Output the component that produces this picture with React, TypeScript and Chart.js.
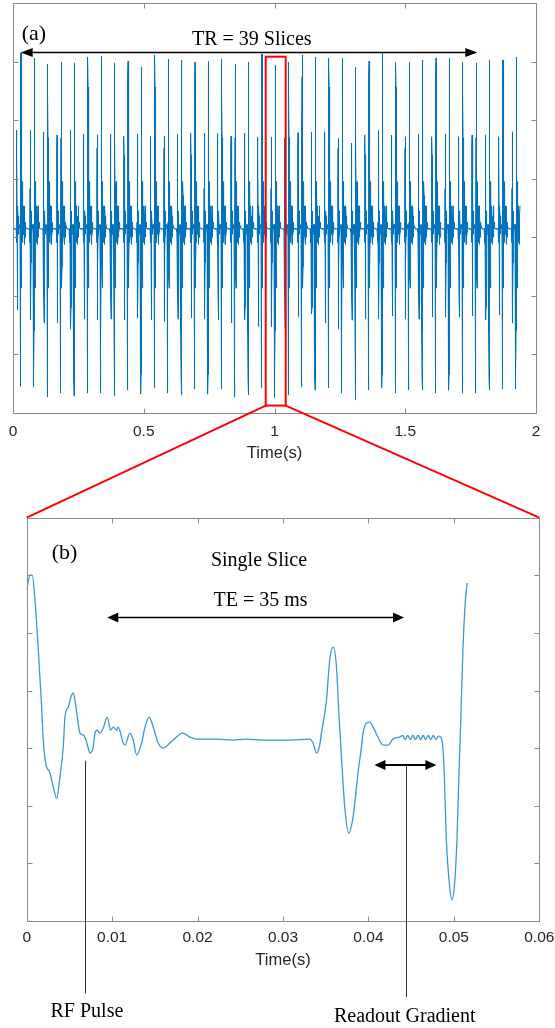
import React, { useEffect, useRef } from 'react';
import { Chart, registerables } from 'chart.js';

Chart.register(...registerables);

// ---------------- DATA ----------------
// Panel (b): one slice of the signal. Time in seconds, amplitude in axis units.
const sliceTime = [
  0, 0.00039, 0.00065, 0.00097, 0.00136, 0.00175, 0.00194, 0.00222, 0.00273, 0.00311,
  0.00351, 0.00389, 0.00428, 0.00448, 0.00487, 0.00518, 0.00545, 0.00577, 0.00623, 0.00662,
  0.00694, 0.0072, 0.0074, 0.00779, 0.00799, 0.00826, 0.00857, 0.00896, 0.00943, 0.00982,
  0.01013, 0.01053, 0.01071, 0.0113, 0.0115, 0.01208, 0.01247, 0.01287, 0.01345, 0.01384,
  0.01434, 0.01481, 0.01539, 0.01598, 0.01676, 0.01715, 0.01825, 0.0191, 0.01988, 0.02222,
  0.02416, 0.02573, 0.02767, 0.0308, 0.03313, 0.03352, 0.03392, 0.0343, 0.0345, 0.03509,
  0.03547, 0.03586, 0.03626, 0.03656, 0.03684, 0.03723, 0.0377, 0.0382, 0.03878, 0.03918,
  0.03937, 0.03977, 0.04015, 0.04054, 0.04112, 0.04171, 0.04229, 0.04288, 0.04366, 0.044,
  0.0443, 0.0446, 0.0449, 0.0452, 0.0455, 0.0458, 0.0461, 0.0464, 0.0467, 0.047,
  0.0473, 0.0476, 0.0479, 0.0482, 0.04854, 0.04873, 0.04887, 0.04912, 0.04951, 0.04978,
  0.05009, 0.05036, 0.0506, 0.05076, 0.05106, 0.05135, 0.05158,
];
const sliceSignal = [
  1.745, 2.005, 2.005, 1.571, 0.703, -0.286, -0.859, -1.259, -1.432, -1.675,
  -1.866, -1.502, -0.981, -0.46, -0.286, -0.113, -0.043, -0.286, -0.738, -0.773,
  -0.859, -0.998, -1.085, -0.981, -0.738, -0.686, -0.738, -0.651, -0.46, -0.686,
  -0.634, -0.686, -0.634, -0.911, -0.946, -0.738, -0.859, -1.12, -0.911, -0.634,
  -0.46, -0.634, -0.911, -0.998, -0.911, -0.859, -0.738, -0.807, -0.842, -0.842,
  -0.859, -0.842, -0.859, -0.859, -0.842, -0.911, -1.085, -0.946, -0.738, -0.165,
  0.53, 0.755, 0.408, -0.46, -1.155, -2.023, -2.474, -2.196, -1.432, -0.981,
  -0.738, -0.564, -0.547, -0.634, -0.807, -0.946, -0.946, -0.842, -0.807, -0.78,
  -0.85, -0.78, -0.85, -0.78, -0.85, -0.78, -0.85, -0.78, -0.85, -0.78,
  -0.85, -0.78, -0.85, -0.79, -0.825, -1.033, -1.432, -2.595, -3.41, -3.636,
  -3.341, -2.595, -1.432, -0.738, 0.703, 1.571, 1.866,
];

// Panel (a): repetition of the slice (TR = 39 slices) and per-slice extremes
const slicePeriod = 0.0512;
const firstSliceStart = -0.0211;
const sliceCount = 39;
const traceEnd = 1.939;
const tallUpPeaks = [
  2.152, 2.067, 1.964, 1.998, 1.981, 2.084, 2.101, 1.981, 2.015, 1.913,
  2.118, 2.05, 2.032, 1.998, 2.015, 2.05, 1.964, 1.998, 2.135, 1.947,
  1.998, 2.118, 2.084, 2.067, 2.067, 1.913, 2.015, 2.152, 1.998, 1.998,
  2.032, 2.067, 2.067, 1.998, 1.981, 2.032, 2.032, 2.084,
];
const tallDownPeaks = [
  -3.552, -3.557, -3.728, -3.66, -3.711, -3.66, -3.66, -3.711, -3.609, -3.677,
  -3.574, -3.66, -3.694, -3.591, -3.677, -3.591, -3.728, -3.694, -3.574, -3.737,
  -3.694, -3.557, -3.609, -3.574, -3.66, -3.779, -3.609, -3.574, -3.66, -3.609,
  -3.609, -3.66, -3.609, -3.66, -3.66, -3.609, -3.591, -3.591,
];
const echoUpPeaks = [
  0.836, 0.836, 0.802, 0.75, 0.836, 0.768, 0.75, 0.768, 0.733, 0.768,
  0.733, 0.733, 0.768, 0.785, 0.785, 0.785, 0.733, 0.785, 0.716, 0.716,
  0.704, 0.79, 0.802, 0.807, 0.699, 0.614, 0.75, 0.836, 0.75, 0.721,
  0.768, 0.721, 0.768, 0.721, 0.75, 0.75, 0.721, 0.807,
];
const echoDownPeaks = [
  -2.241, -2.412, -2.458, -2.463, -2.566, -2.395, -2.412, -2.395, -2.412, -2.378,
  -2.412, -2.441, -2.395, -2.378, -2.395, -2.412, -2.463, -2.412, -2.526, -2.526,
  -2.549, -2.356, -2.309, -2.463, -2.566, -2.412, -2.395, -2.395, -2.344, -2.395,
  -2.395, -2.361, -2.361, -2.356, -2.344, -2.412, -2.327, -2.463,
];

// Axis ticks
const xTicksA = [0, 0.5, 1, 1.5, 2];
const xLabelsA = ['0', '0.5', '1', '1.5', '2'];
const xTicksB = [0, 0.01, 0.02, 0.03, 0.04, 0.05, 0.06];
const xLabelsB = ['0', '0.01', '0.02', '0.03', '0.04', '0.05', '0.06'];
const yTicks = [-4, -3, -2, -1, 0, 1, 2, 3];

// ---------------- LAYOUT / STYLE ----------------
const W = 555;
const H_A = 470;
const B_TOP = 400;
const H_B = 628;
const TICK = 5;
const FRAME = '#8a8a8a';
const LABEL = '#262626';
const SANS = '"Liberation Sans", Arial, Helvetica, sans-serif';
const SERIF = '"Liberation Serif", "Times New Roman", serif';

const annotA = {
  panel: { text: '(a)', x: 0.033, y: 2.38, size: 22 },
  title: { text: 'TR = 39 Slices', x: 0.913, y: 2.289, size: 20 },
  arrow: { x0: 0.0294, x1: 1.7755, y: 2.161 },
  box: { x0: 0.9664, x1: 1.0428, y0: -3.873, y1: 2.089 },
};
const annotB = {
  panel: { text: '(b)', x: 0.00292, y: 2.276, size: 22 },
  title: { text: 'Single Slice', x: 0.02719, y: 2.158, size: 20 },
  te: { text: 'TE = 35 ms', x: 0.02738, y: 1.464, size: 20 },
  teArrow: { x0: 0.00943, x1: 0.04416, y: 1.267 },
  roArrow: { x0: 0.0407, x1: 0.04795, y: -1.293 },
  rfLine: { x: 0.00682, y0: -1.219, y1: -5.257 },
  rfText: { text: 'RF Pulse', x: 0.00705, y: -5.66, size: 20 },
  roLine: { x: 0.04436, y0: -1.31, y1: -5.321 },
  roText: { text: 'Readout Gradient', x: 0.04425, y: -5.745, size: 20 },
};

// ---------------- helpers ----------------
function argExtreme(t0: number, t1: number, wantMax: boolean) {
  let best = -1;
  for (let i = 0; i < sliceTime.length; i++) {
    if (sliceTime[i] < t0 || sliceTime[i] > t1) continue;
    if (best < 0 || (wantMax ? sliceSignal[i] > sliceSignal[best] : sliceSignal[i] < sliceSignal[best])) best = i;
  }
  return best;
}

function buildTraceA() {
  const idxEchoUp = argExtreme(0.035, 0.037, true);
  const idxEchoDown = argExtreme(0.037, 0.039, false);
  const idxTallDown = argExtreme(0.049, 0.051, false);
  const pts: { x: number; y: number }[] = [];
  for (let k = 0; k < sliceCount; k++) {
    const start = firstSliceStart + k * slicePeriod;
    for (let i = 0; i < sliceTime.length; i++) {
      if (sliceTime[i] >= slicePeriod) break;
      const t = start + sliceTime[i];
      if (t < 0 || t > traceEnd) continue;
      let v = sliceSignal[i];
      if (k >= 1 && (i === 1 || i === 2)) v = tallUpPeaks[k - 1];
      if (k < tallDownPeaks.length) {
        if (i === idxEchoUp) v = echoUpPeaks[k];
        if (i === idxEchoDown) v = echoDownPeaks[k];
        if (i === idxTallDown) v = tallDownPeaks[k];
      }
      pts.push({ x: t, y: v });
    }
  }
  return pts;
}

function drawFrame(chart: any, xTicks: number[]) {
  const { ctx, chartArea: ca, scales } = chart;
  const l = Math.round(ca.left) + 0.5;
  const r = Math.round(ca.right) + 0.5;
  const t = Math.round(ca.top) + 0.5;
  const b = Math.round(ca.bottom) + 0.5;
  ctx.save();
  ctx.strokeStyle = FRAME;
  ctx.lineWidth = 1;
  ctx.beginPath();
  ctx.rect(l, t, r - l, b - t);
  for (const v of xTicks) {
    const x = Math.round(scales.x.getPixelForValue(v)) + 0.5;
    ctx.moveTo(x, b);
    ctx.lineTo(x, b - TICK);
    ctx.moveTo(x, t);
    ctx.lineTo(x, t + TICK);
  }
  for (const v of yTicks) {
    const y = Math.round(scales.y.getPixelForValue(v)) + 0.5;
    ctx.moveTo(l, y);
    ctx.lineTo(l + TICK, y);
    ctx.moveTo(r, y);
    ctx.lineTo(r - TICK, y);
  }
  ctx.stroke();
  ctx.restore();
}

function drawText(ctx: CanvasRenderingContext2D, text: string, x: number, y: number, size: number, align: CanvasTextAlign) {
  ctx.save();
  ctx.fillStyle = '#000';
  ctx.font = `${size}px ${SERIF}`;
  ctx.textAlign = align;
  ctx.textBaseline = 'alphabetic';
  ctx.fillText(text, x, y);
  ctx.restore();
}

function drawDoubleArrow(ctx: CanvasRenderingContext2D, x0: number, x1: number, y: number, lw: number, len: number, half: number) {
  ctx.save();
  ctx.strokeStyle = '#000';
  ctx.fillStyle = '#000';
  ctx.lineWidth = lw;
  ctx.beginPath();
  ctx.moveTo(x0 + len - 1, y);
  ctx.lineTo(x1 - len + 1, y);
  ctx.stroke();
  ctx.beginPath();
  ctx.moveTo(x0, y);
  ctx.lineTo(x0 + len, y - half);
  ctx.lineTo(x0 + len, y + half);
  ctx.closePath();
  ctx.fill();
  ctx.beginPath();
  ctx.moveTo(x1, y);
  ctx.lineTo(x1 - len, y - half);
  ctx.lineTo(x1 - len, y + half);
  ctx.closePath();
  ctx.fill();
  ctx.restore();
}

function xAxis(min: number, max: number, ticks: number[], labels: string[], height: number, tickPad: number, titlePad: number) {
  return {
    type: 'linear' as const,
    min,
    max,
    grid: { display: false, drawTicks: false },
    border: { display: false },
    afterBuildTicks: (s: any) => {
      s.ticks = ticks.map((value) => ({ value }));
    },
    afterFit: (s: any) => {
      s.height = height;
      s.paddingLeft = 0;
      s.paddingRight = 0;
    },
    ticks: {
      autoSkip: false,
      maxRotation: 0,
      padding: tickPad,
      color: LABEL,
      font: { family: SANS, size: 15.5 },
      callback: (_v: any, i: number) => labels[i] ?? '',
    },
    title: {
      display: true,
      text: 'Time(s)',
      color: LABEL,
      font: { family: SANS, size: 16.5 },
      padding: { top: 0, bottom: titlePad },
    },
  };
}

export default function App() {
  const refA = useRef<HTMLCanvasElement>(null);
  const refB = useRef<HTMLCanvasElement>(null);

  useEffect(() => {
    const traceA = buildTraceA();
    const traceB = sliceTime.map((t, i) => ({ x: t, y: sliceSignal[i] }));

    const pluginA = {
      id: 'panelA',
      afterDraw(chart: any) {
        const { ctx, scales } = chart;
        const sx = scales.x;
        const sy = scales.y;
        drawFrame(chart, xTicksA);
        const bx = annotA.box;
        ctx.save();
        ctx.strokeStyle = '#ff0000';
        ctx.lineWidth = 2;
        const x0 = sx.getPixelForValue(bx.x0);
        const x1 = sx.getPixelForValue(bx.x1);
        const y0 = sy.getPixelForValue(bx.y0);
        const y1 = sy.getPixelForValue(bx.y1);
        ctx.strokeRect(x0, y1, x1 - x0, y0 - y1);
        ctx.restore();
        const ar = annotA.arrow;
        drawDoubleArrow(ctx, sx.getPixelForValue(ar.x0), sx.getPixelForValue(ar.x1), sy.getPixelForValue(ar.y), 1.5, 12, 4.5);
        const p = annotA.panel;
        drawText(ctx, p.text, sx.getPixelForValue(p.x), sy.getPixelForValue(p.y), p.size, 'left');
        const tt = annotA.title;
        drawText(ctx, tt.text, sx.getPixelForValue(tt.x), sy.getPixelForValue(tt.y), tt.size, 'center');
      },
    };

    const chartA = new Chart(refA.current as HTMLCanvasElement, {
      type: 'line',
      data: {
        datasets: [
          {
            data: traceA,
            borderColor: '#0072BD',
            borderWidth: 1,
            pointRadius: 0,
            tension: 0,
            fill: false,
          },
        ],
      },
      options: {
        animation: false,
        responsive: false,
        devicePixelRatio: 1,
        parsing: false,
        normalized: true,
        events: [],
        layout: { padding: { left: 13, right: 19, top: 3.4, bottom: 0 } },
        plugins: { legend: { display: false }, tooltip: { enabled: false } },
        scales: {
          x: xAxis(0, 2, xTicksA, xLabelsA, 57, 9.3, 6.4) as any,
          y: { type: 'linear', min: -4, max: 3, display: false },
        },
      },
      plugins: [pluginA],
    });

    const pluginB = {
      id: 'panelB',
      afterDraw(chart: any) {
        const { ctx, scales, chartArea: ca } = chart;
        const sx = scales.x;
        const sy = scales.y;
        // red zoom connectors from the box in panel (a)
        const ax = chartA.scales.x;
        const ay = chartA.scales.y;
        const bx = annotA.box;
        const yb = ay.getPixelForValue(bx.y0) - B_TOP;
        ctx.save();
        ctx.strokeStyle = '#ff0000';
        ctx.lineWidth = 2;
        ctx.beginPath();
        ctx.moveTo(ax.getPixelForValue(bx.x0), yb);
        ctx.lineTo(ca.left, ca.top);
        ctx.moveTo(ax.getPixelForValue(bx.x1), yb);
        ctx.lineTo(ca.right, ca.top);
        ctx.stroke();
        ctx.restore();

        drawFrame(chart, xTicksB);

        const p = annotB.panel;
        drawText(ctx, p.text, sx.getPixelForValue(p.x), sy.getPixelForValue(p.y), p.size, 'left');
        for (const tt of [annotB.title, annotB.te, annotB.rfText, annotB.roText]) {
          drawText(ctx, tt.text, sx.getPixelForValue(tt.x), sy.getPixelForValue(tt.y), tt.size, 'center');
        }
        const te = annotB.teArrow;
        drawDoubleArrow(ctx, sx.getPixelForValue(te.x0), sx.getPixelForValue(te.x1), sy.getPixelForValue(te.y), 1.5, 11, 5);
        const ro = annotB.roArrow;
        drawDoubleArrow(ctx, sx.getPixelForValue(ro.x0), sx.getPixelForValue(ro.x1), sy.getPixelForValue(ro.y), 2, 11, 5);

        ctx.save();
        ctx.strokeStyle = '#333';
        ctx.lineWidth = 1;
        ctx.beginPath();
        for (const ln of [annotB.rfLine, annotB.roLine]) {
          const x = Math.round(sx.getPixelForValue(ln.x)) + 0.5;
          ctx.moveTo(x, sy.getPixelForValue(ln.y0));
          ctx.lineTo(x, sy.getPixelForValue(ln.y1));
        }
        ctx.stroke();
        ctx.restore();
      },
    };

    const chartB = new Chart(refB.current as HTMLCanvasElement, {
      type: 'line',
      data: {
        datasets: [
          {
            data: traceB,
            borderColor: '#3b97d3',
            borderWidth: 1.3,
            pointRadius: 0,
            cubicInterpolationMode: 'monotone',
            fill: false,
          },
        ],
      },
      options: {
        animation: false,
        responsive: false,
        devicePixelRatio: 1,
        parsing: false,
        events: [],
        layout: { padding: { left: 26.7, right: 15.7, top: 117.7, bottom: 0 } },
        plugins: { legend: { display: false }, tooltip: { enabled: false } },
        scales: {
          x: xAxis(0, 0.06, xTicksB, xLabelsB, 107, 7.6, 57.3) as any,
          y: { type: 'linear', min: -4, max: 3, display: false },
        },
      },
      plugins: [pluginB],
    });

    return () => {
      chartB.destroy();
      chartA.destroy();
    };
  }, []);

  return (
    <div style={{ position: 'absolute', left: 0, top: 0, width: W, height: 1028, background: '#fff' }}>
      <canvas
        ref={refA}
        width={W}
        height={H_A}
        style={{ position: 'absolute', left: 0, top: 0, width: W, height: H_A }}
      />
      <canvas
        ref={refB}
        width={W}
        height={H_B}
        style={{ position: 'absolute', left: 0, top: B_TOP, width: W, height: H_B }}
      />
    </div>
  );
}
